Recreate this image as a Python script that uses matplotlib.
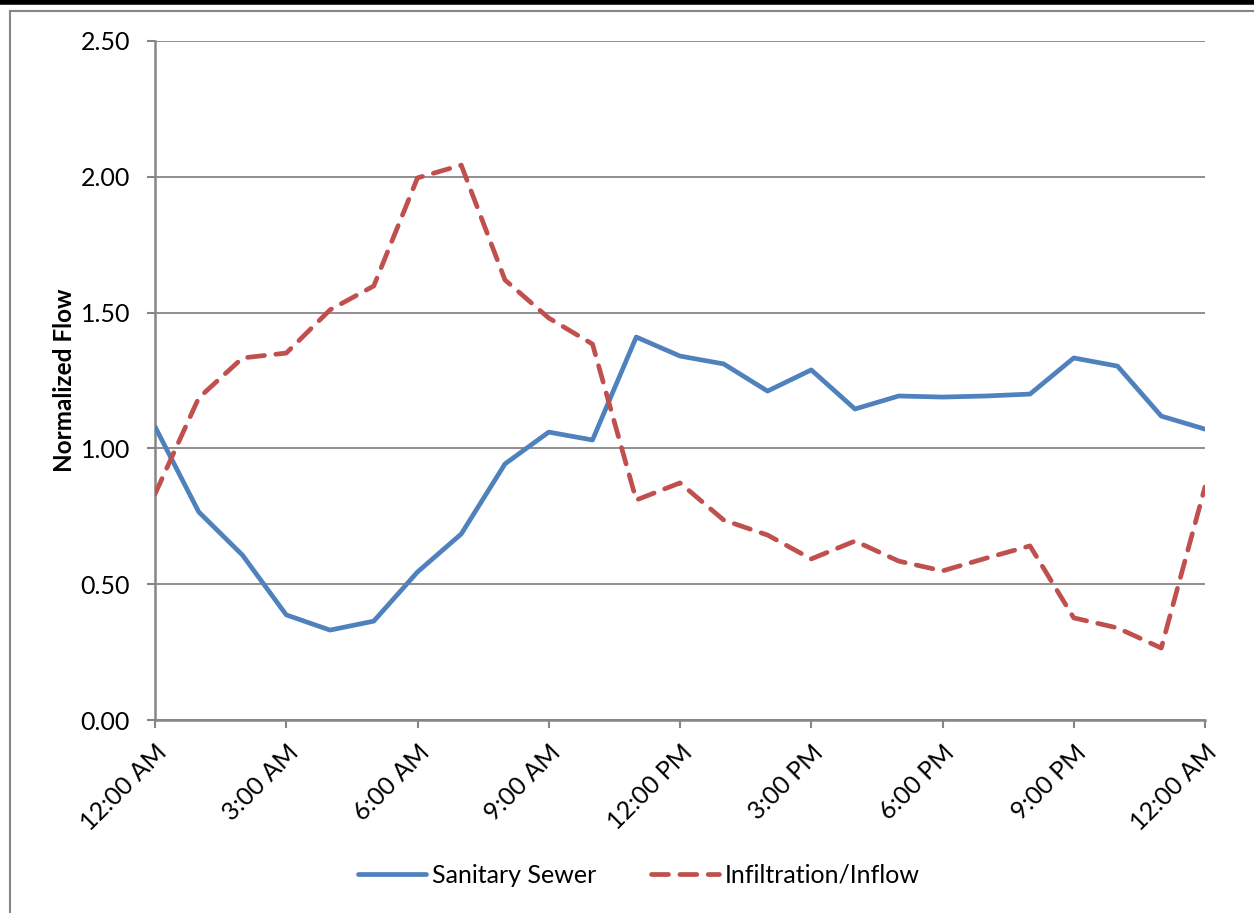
import matplotlib
matplotlib.use("Agg")
import matplotlib.pyplot as plt
from matplotlib.lines import Line2D

plt.rcParams['font.family'] = ['Lato', 'DejaVu Sans']

hours = list(range(25))
sanitary = [1.08, 0.766, 0.607, 0.387, 0.331, 0.364, 0.545, 0.685, 0.943, 1.06, 1.031,
            1.41, 1.34, 1.311, 1.211, 1.289, 1.145, 1.193, 1.189, 1.193, 1.20, 1.333,
            1.303, 1.119, 1.071]
infiltration = [0.832, 1.186, 1.333, 1.351, 1.51, 1.598, 1.996, 2.043, 1.62, 1.48, 1.384,
                0.81, 0.873, 0.736, 0.681, 0.593, 0.659, 0.585, 0.549, 0.596, 0.641, 0.376,
                0.339, 0.265, 0.858]
xtick_pos = [0, 3, 6, 9, 12, 15, 18, 21, 24]
xtick_labels = ['12:00 AM', '3:00 AM', '6:00 AM', '9:00 AM', '12:00 PM', '3:00 PM',
                '6:00 PM', '9:00 PM', '12:00 AM']
ytick_pos = [0.0, 0.5, 1.0, 1.5, 2.0, 2.5]

W, H = 1254, 913
fig = plt.figure(figsize=(W / 100, H / 100), dpi=100)
ax = fig.add_axes([155 / W, 1 - 720 / H, (1205 - 155) / W, (720 - 41) / H])

grey = '#868686'
ax.plot(hours, sanitary, color='#4F81BD', lw=3.4, solid_capstyle='round',
        solid_joinstyle='round', label='Sanitary Sewer', zorder=3)
ax.plot(hours, infiltration, color='#C0504D', lw=3.4, linestyle=(0, (3.6, 2.4)),
        dash_capstyle='round', dash_joinstyle='round', label='Infiltration/Inflow', zorder=3)

ax.set_xlim(0, 24)
ax.set_ylim(0, 2.5)
ax.set_yticks(ytick_pos)
ax.set_yticklabels([f'{v:.2f}' for v in ytick_pos])
ax.set_xticks(xtick_pos)
ax.set_xticklabels(xtick_labels, rotation=45, ha='right', va='top', rotation_mode='anchor')
ax.tick_params(axis='both', labelsize=18, colors=grey, labelcolor='black', width=1.5, length=6)
ax.tick_params(axis='y', pad=12)
ax.tick_params(axis='x', pad=9)
ax.grid(axis='y', color=grey, lw=1.3)
ax.set_axisbelow(True)
for s in ['top', 'right']:
    ax.spines[s].set_visible(False)
for s in ['left', 'bottom']:
    ax.spines[s].set_color(grey)
    ax.spines[s].set_linewidth(1.8)
ax.set_ylabel('Normalized Flow', fontsize=17.5, fontweight='bold', labelpad=3)

fig.legend(loc='center', bbox_to_anchor=(0.5 + 12 / W, 1 - 875 / H), ncol=2, frameon=False,
           fontsize=18, handlelength=2.7, columnspacing=2.2, handletextpad=0.25)

# outer frame
fig.add_artist(Line2D([0, 1], [1 - 2.5 / H, 1 - 2.5 / H], color='black', lw=4))
fig.add_artist(Line2D([10 / W, 1], [1 - 11 / H, 1 - 11 / H], color=grey, lw=1.5))
fig.add_artist(Line2D([10 / W, 10 / W], [1 - 11 / H, 0], color=grey, lw=1.5))

fig.savefig('out.png', dpi=100)
